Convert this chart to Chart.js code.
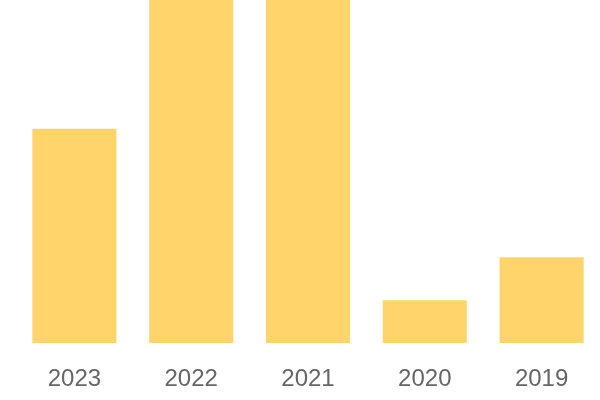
<!DOCTYPE html>
<html>
<head>
<meta charset="utf-8">
<script src="https://cdn.jsdelivr.net/npm/chart.js@4"></script>
<style>
  html, body { margin: 0; padding: 0; background: #fff; }
  #wrap { width: 600px; height: 400px; }
</style>
</head>
<body>
<div id="wrap"><canvas id="yearChart"></canvas></div>
<script>
const years = ['2023', '2022', '2021', '2020', '2019'];
const counts = [50, 80, 80, 10, 20];
const yTop = 80;

const ctx = document.getElementById('yearChart').getContext('2d');

const yearChart = new Chart(ctx, {
    type: 'bar',
    data: {
        labels: years,
        datasets: [{
            data: counts,
            backgroundColor: '#FED46B',
            borderWidth: 0
        }]
    },
    options: {
        responsive: true,
        maintainAspectRatio: false,
        animation: false,
        layout: { padding: { left: 16, right: 0, top: 0, bottom: 0 } },
        plugins: {
            legend: { display: false },
            tooltip: { enabled: false }
        },
        scales: {
            y: {
                display: false,
                min: 0,
                max: yTop
            },
            x: {
                grid: { display: false, drawTicks: false },
                border: { display: false },
                ticks: {
                    color: '#666',
                    padding: 22,
                    font: { family: 'Liberation Sans', size: 24 }
                },
                // keep the axis band the same height as in the reference
                afterFit: function(scale) {
                    scale.height = 57;
                }
            }
        }
    }
});
</script>
</body>
</html>
